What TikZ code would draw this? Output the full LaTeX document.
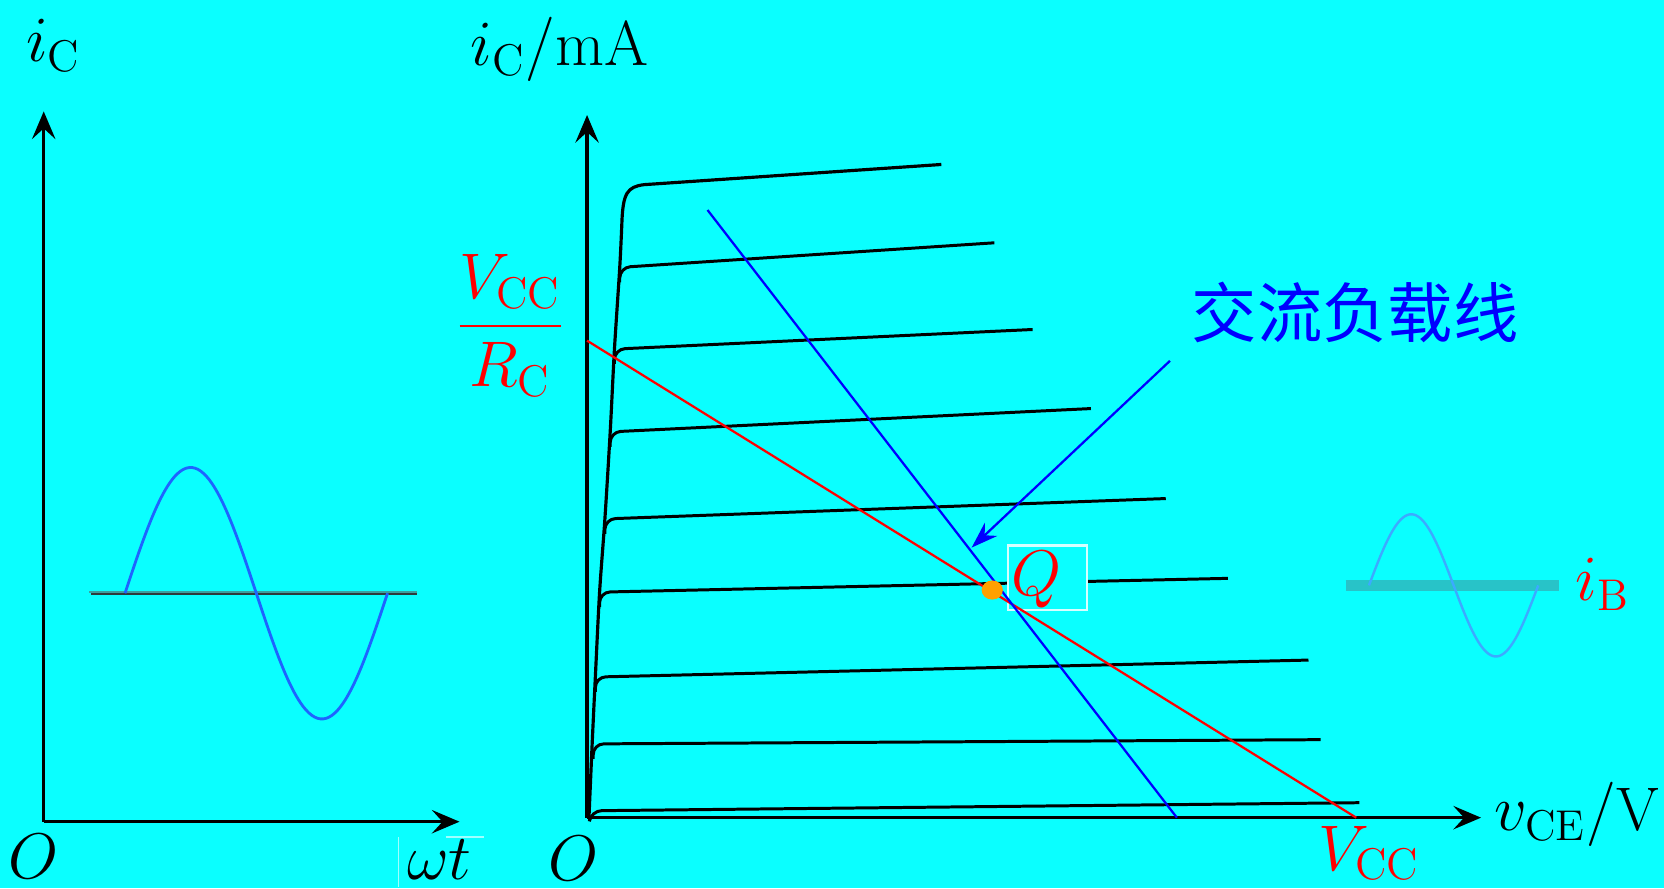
\documentclass[tikz,border=0pt]{standalone}
\usepackage{fontspec}
\newfontfamily\cjk{Noto Sans CJK SC}
\usetikzlibrary{arrows.meta,shapes.geometric}
\definecolor{bg}{RGB}{10,255,255}
\definecolor{sineA}{RGB}{30,100,255}
\definecolor{sineB}{RGB}{60,170,255}
\definecolor{bandTeal}{RGB}{40,195,200}
\definecolor{lineTeal}{RGB}{60,160,160}
\definecolor{lineDark}{RGB}{45,60,60}
\definecolor{qbox}{RGB}{215,255,255}
\definecolor{faint}{RGB}{160,255,255}
\definecolor{dotorange}{RGB}{255,160,0}
\begin{document}
\begin{tikzpicture}[x=0.01cm,y=-0.01cm,
  axisline/.style={line width=0.9pt,-{Stealth[length=0.26cm,width=0.22cm,inset=0.1cm]}},
  charcurve/.style={line width=0.8pt,rounded corners=0.1cm},
  lbl/.style={inner sep=0,font=\fontsize{17}{20}\selectfont},
  loadline/.style={line width=0.6pt}]
\fill[bg] (0,0) rectangle (1568,837);
\useasboundingbox (0,0) rectangle (1568,837);

% ---------- left panel ----------
\coordinate (O1) at (41.2,774.3);
\coordinate (Y1) at (41.2,105);
\coordinate (X1) at (433,774.3);
\draw[axisline] (O1) -- (Y1);
\draw[axisline] (O1) -- (X1);
\draw[line width=0.5pt,lineTeal] (84,557.9) -- (393,557.9);
\draw[line width=0.55pt,lineDark] (86,559.9) -- (393,559.9);
\draw[line width=0.75pt,sineA] plot[domain=0:360,samples=91,smooth] ({117.8+\x/360*247.4},{559-118.5*sin(\x)});
\node[lbl,anchor=base west] (ic1) at (24,58) {$i_{\mathrm{C}}$};
\node[lbl] (o1) at (32,807) {$O$};
\node[lbl] (wt) at (414,810) {$\omega t$};
\draw[line width=0.4pt,faint] (375.7,789) -- (375.7,836);
\draw[line width=0.6pt,faint] (420,789) -- (456,789);

% ---------- right panel ----------
\coordinate (O2) at (553.2,770.5);
\coordinate (Y2) at (553.2,108.4);
\coordinate (X2) at (1395.6,770.5);
\draw[axisline] (O2) -- (Y2);
\draw[axisline] (O2) -- (X2);

% output characteristic curves
\draw[line width=0.85pt] plot[smooth,tension=0.5] coordinates {(555,770) (558,701) (561,638) (565,558) (570,489) (575,407) (579,329) (584,252) (586,210)}
  .. controls (587,182) and (591,176) .. (607,174) -- (887,155);
\draw[charcurve] (584,266) -- (584,252) -- (937,228.8);
\draw[charcurve] (579,343) -- (579,329) -- (973,310.5);
\draw[charcurve] (575,421) -- (575,407) -- (1028,385);
\draw[charcurve] (570,503) -- (570,489) -- (1098.5,469.8);
\draw[charcurve] (565,572) -- (565,558) -- (1157,545);
\draw[charcurve] (561,652) -- (561,638) -- (1233,622);
\draw[charcurve] (559,715) -- (559,701) -- (1244.5,697);
\draw[charcurve] (556,770) -- (557,764) -- (1281,756.4);

% Q box
\node[draw=qbox,fill=bg,line width=0.6pt,minimum width=0.74cm,minimum height=0.61cm,inner sep=0] (qb) at (987,544.5) {};

% load lines
\coordinate (RL1) at (553.2,321);
\coordinate (RL2) at (1278,770.5);
\draw[loadline,red] (RL1) -- (RL2);
\coordinate (BL1) at (666.7,197.9);
\coordinate (BL2) at (1109,770.5);
\draw[loadline,blue] (BL1) -- (BL2);

% pointer arrow
\coordinate (A1) at (1102.5,340);
\coordinate (A2) at (915.6,516);
\draw[loadline,blue,-{Stealth[length=0.25cm,width=0.17cm]}] (A1) -- (A2);

% Q point
\node[ellipse,fill=dotorange,inner sep=0,minimum width=0.2cm,minimum height=0.18cm] (qdot) at (935,556) {};
\node[lbl,text=red] (q) at (977,546) {$Q$};

% labels
\node[lbl,anchor=base west] (ic2) at (443,62) {$i_{\mathrm{C}}/\mathrm{mA}$};
\node[lbl,text=red] (frac) at (481,307) {$\displaystyle\frac{V_{\mathrm{CC}}}{R_{\mathrm{C}}}$};
\node[lbl] (o2) at (540,809) {$O$};
\node[lbl,anchor=base west,font=\fontsize{16.5}{20}\selectfont] (vce) at (1408,783) {$v_{\mathrm{CE}}/\mathrm{V}$};
\node[lbl,anchor=base west,text=red] (vcc) at (1242,820) {$V_{\mathrm{CC}}$};
\node[inner sep=0,text=blue,font=\cjk\fontsize{17.5}{20}\selectfont] (acl) at (1277,294) {交流负载线};

% input sine (i_B)
\draw[line width=3pt,bandTeal] (1268,552) -- (1469,552);
\draw[line width=0.65pt,sineB] plot[domain=0:360,samples=91,smooth] ({1290+\x/360*159.5},{551.6-67*sin(\x)});
\node[lbl,anchor=base west,text=red] (ib) at (1484,566) {$i_{\mathrm{B}}$};
\end{tikzpicture}
\end{document}
